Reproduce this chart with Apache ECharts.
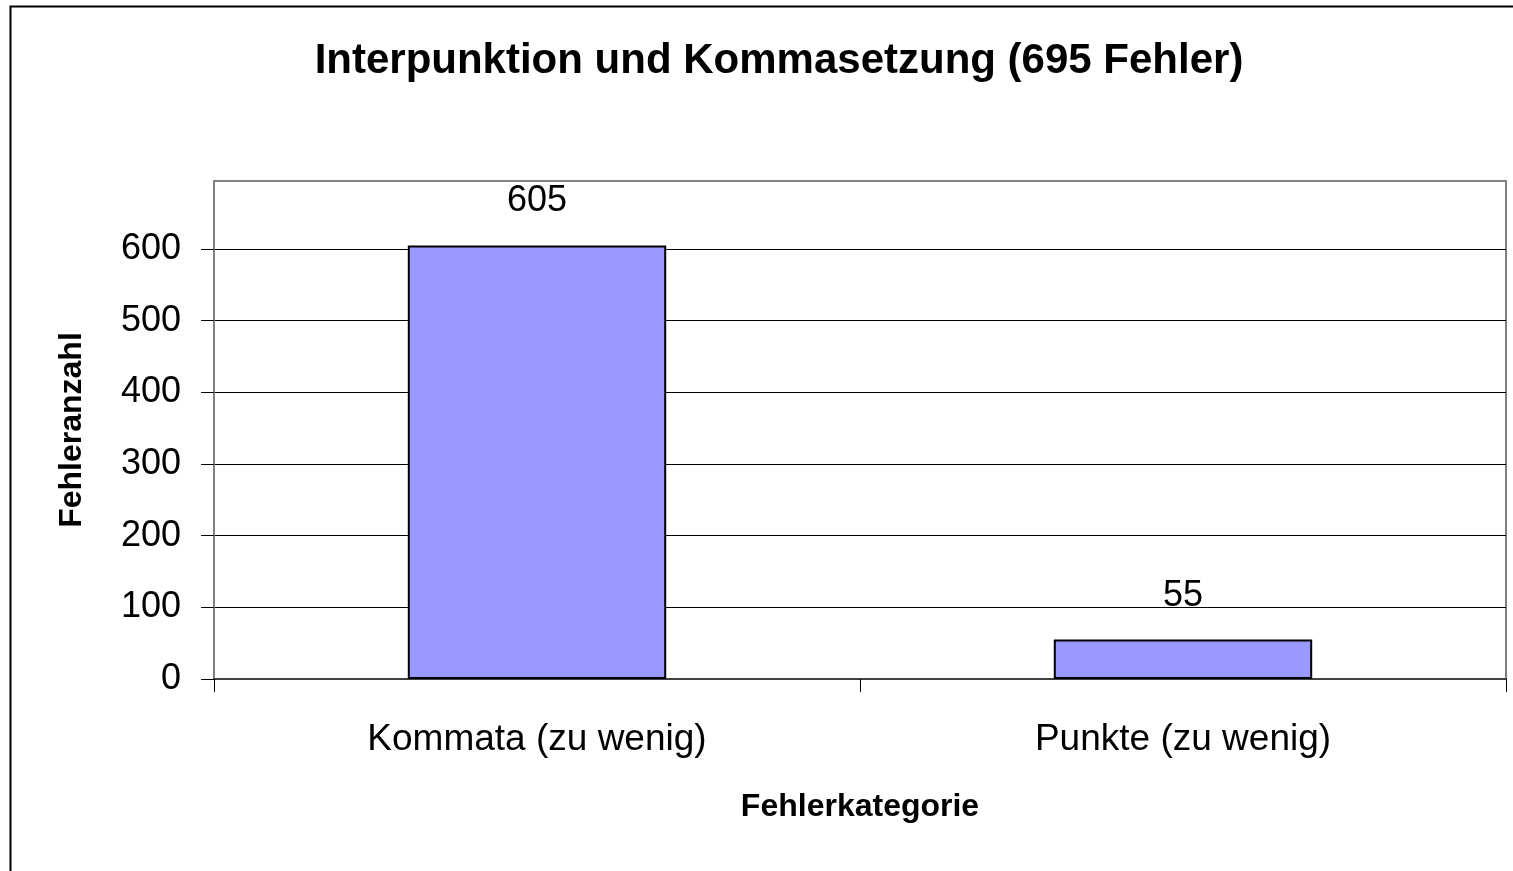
<!DOCTYPE html>
<html>
<head>
<meta charset="utf-8">
<title>Interpunktion und Kommasetzung</title>
<script src="https://cdn.jsdelivr.net/npm/echarts@6/dist/echarts.min.js"></script>
<style>
  html, body { margin: 0; padding: 0; background: #fff; }
  #chart { width: 1513px; height: 871px; }
</style>
</head>
<body>
<div id="chart"></div>
<script>
// Daten
const categories = ['Kommata (zu wenig)', 'Punkte (zu wenig)']
const fehlerWerte = [605, 55]
const yTicks = [0, 100, 200, 300, 400, 500, 600]
const yMax = 695 // oberer Rand der Zeichenfläche

const font = '"Liberation Sans", Arial, sans-serif'

const chart = echarts.init(document.getElementById('chart'))

const option = {
  backgroundColor: '#fff',
  animation: false,
  title: {
    text: 'Interpunktion und Kommasetzung (695 Fehler)',
    left: 774,
    top: 35,
    textAlign: 'center',
    textStyle: {
      fontFamily: font,
      fontSize: 42,
      fontWeight: 'bold',
      color: '#000'
    }
  },
  graphic: [
    { // äußerer Rahmen
      type: 'rect',
      shape: { x: 10.5, y: 6.5, width: 1560, height: 900 },
      style: { fill: 'none', stroke: '#000', lineWidth: 2 },
      silent: true
    }
  ],
  grid: {
    left: 214,
    top: 181,
    right: 7,
    bottom: 192,
    show: true,
    borderColor: '#808080',
    borderWidth: 2,
    backgroundColor: '#fff'
  },
  xAxis: {
    type: 'category',
    data: categories,
    name: 'Fehlerkategorie',
    nameLocation: 'middle',
    nameGap: 112,
    nameTextStyle: {
      fontFamily: font,
      fontSize: 32,
      fontWeight: 'bold',
      color: '#000'
    },
    axisLine: { lineStyle: { color: '#404040', width: 2 } },
    axisTick: { show: true, length: 13, lineStyle: { color: '#000', width: 1 } },
    axisLabel: {
      fontFamily: font,
      fontSize: 37,
      color: '#000',
      margin: 42
    }
  },
  yAxis: {
    type: 'value',
    min: 0,
    max: yMax,
    interval: 100,
    name: 'Fehleranzahl',
    nameLocation: 'middle',
    nameGap: 126,
    nameRotate: 90,
    nameTextStyle: {
      fontFamily: font,
      fontSize: 32,
      fontWeight: 'bold',
      color: '#000'
    },
    axisLine: { show: true, lineStyle: { color: '#808080', width: 2 } },
    axisTick: {
      show: true,
      length: 13,
      customValues: yTicks,
      lineStyle: { color: '#000', width: 1 }
    },
    axisLabel: {
      fontFamily: font,
      fontSize: 36,
      color: '#000',
      margin: 33,
      customValues: yTicks
    },
    splitLine: {
      show: true,
      lineStyle: {
        color: ['#000', '#000', '#000', '#000', '#000', '#000', '#000', '#808080'],
        width: 1
      }
    }
  },
  series: [
    {
      type: 'bar',
      data: fehlerWerte,
      barWidth: '40%',
      itemStyle: {
        color: '#9999FF',
        borderColor: '#000',
        borderWidth: 2
      },
      label: {
        show: true,
        position: 'top',
        distance: 26,
        fontFamily: font,
        fontSize: 36,
        color: '#000'
      }
    }
  ]
}

chart.setOption(option)
</script>
</body>
</html>
